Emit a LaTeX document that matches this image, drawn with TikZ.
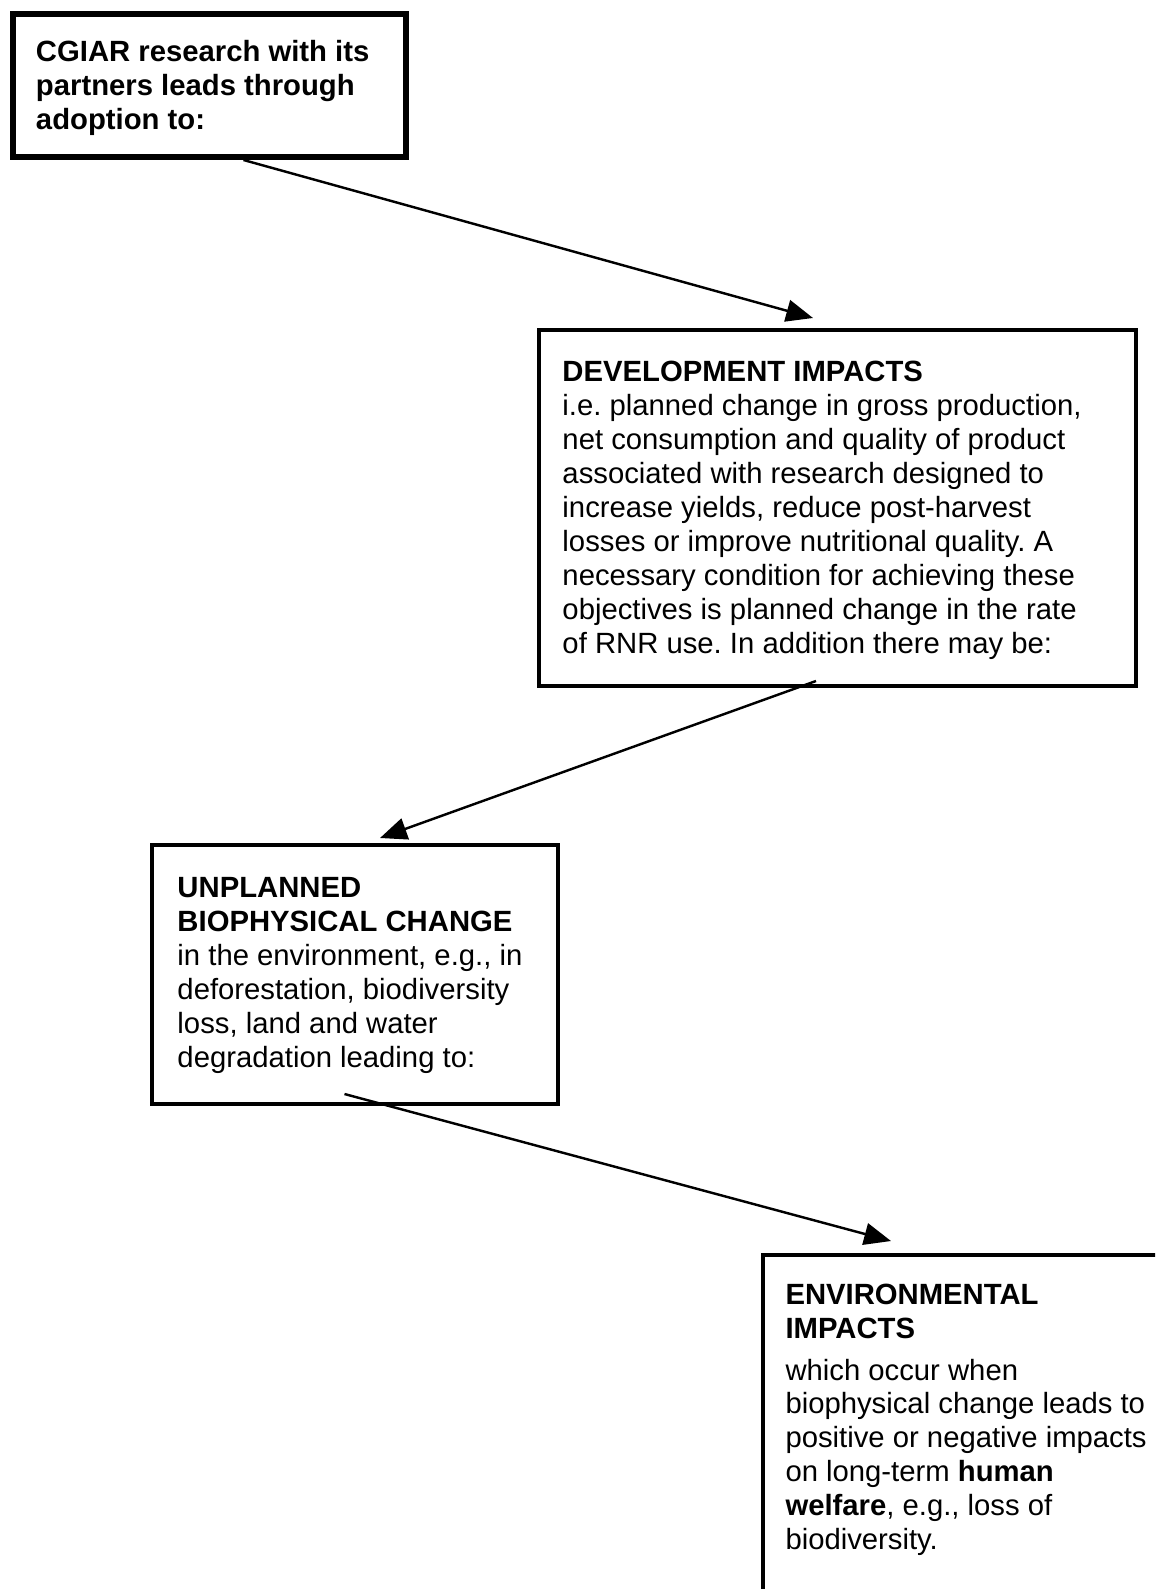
\documentclass[tikz,border=0pt]{standalone}
\usepackage{fontspec}
\setmainfont{Liberation Sans}
\usetikzlibrary{arrows.meta,calc}
\frenchspacing
\begin{document}
\begin{tikzpicture}[x=0.41pt,y=-0.41pt,
  frame/.style={draw=black,line width=1.5pt,inner sep=0pt,outer sep=0pt},
  txt/.style={anchor=north west,inner sep=0pt,align=left,
    font=\fontsize{12}{13.9}\selectfont},
  arr/.style={line width=1pt,-{Triangle[length=11pt,width=9pt]}}]
\useasboundingbox (0,0) rectangle (1155,1589);
\clip (0,0) rectangle (1155,1589);
\fill[white] (0,0) rectangle (1155,1589);

% boxes
\node[frame,line width=2.3pt,minimum width=161.13pt,minimum height=58.63pt] (b1) at (209.5,85.5) {};
\node[frame,minimum width=244.77pt,minimum height=145.96pt] (b2) at (837.5,508) {};
\node[frame,minimum width=166.46pt,minimum height=106.19pt] (b3) at (355,974.5) {};
\node[frame,minimum width=168.92pt,minimum height=145.55pt] (b4) at (969,1432.5) {};

% texts
\node[txt,font=\fontsize{12}{13.9}\selectfont\bfseries] (t1) at (35.5,40)
  {CGIAR research with its\\partners leads through\\adoption to:};
\node[txt] (t2) at (562,361)
  {\textbf{DEVELOPMENT IMPACTS}\\
   i.e. planned change in gross production,\\
   net consumption and quality of product\\
   associated with research designed to\\
   increase yields, reduce post-harvest\\
   losses or improve nutritional quality. A\\
   necessary condition for achieving these\\
   objectives is planned change in the rate\\
   of RNR use. In addition there may be:};
\node[txt] (t3) at (177,877)
  {\textbf{UNPLANNED}\\
   \textbf{BIOPHYSICAL CHANGE}\\
   in the environment, e.g., in\\
   deforestation, biodiversity\\
   loss, land and water\\
   degradation leading to:};
\node[txt] (t4) at (785,1284)
  {\textbf{ENVIRONMENTAL}\\
   \textbf{IMPACTS}\\[3pt]
   which occur when\\
   biophysical change leads to\\
   positive or negative impacts\\
   on long-term \textbf{human}\\
   \textbf{welfare}, e.g., loss of\\
   biodiversity.};

% connectors
\draw[arr] ($(b1.south)+(34,3)$) -- ($(b2.north)+(-24.5,-12)$);
\draw[arr] ($(b2.south)+(-21.5,-5)$) -- ($(b3.north)+(25,-7)$);
\draw[arr] ($(b3.south)+(-10.5,-10)$) -- ($(b4.north west)+(128,-14)$);
\end{tikzpicture}
\end{document}
